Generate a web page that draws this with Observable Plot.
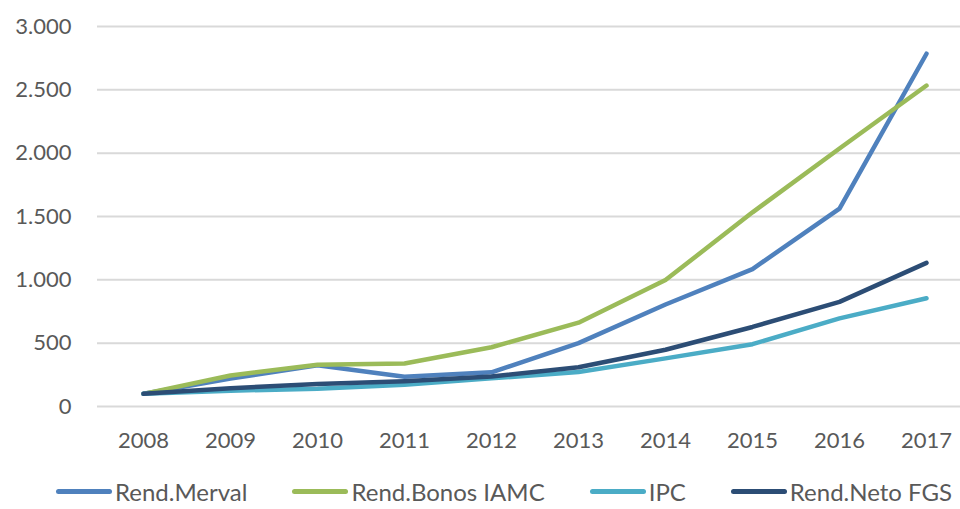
<!DOCTYPE html>
<html>
<head>
<meta charset="utf-8">
<script src="https://cdn.jsdelivr.net/npm/d3@7"></script>
<script src="https://cdn.jsdelivr.net/npm/@observablehq/plot@0.6"></script>
<style>
  html, body { margin: 0; padding: 0; background: #fff; }
  body { width: 960px; height: 509px; overflow: hidden; font-family: Lato, "Open Sans", sans-serif; }
  #legend { display: flex; align-items: center; height: 49px; padding-top: 14px; box-sizing: border-box; padding-left: 56px; gap: 45px; color: #595959; font-size: 24px; }
  .item { display: flex; align-items: center; white-space: nowrap; }
  .sw { width: 56px; height: 5px; border-radius: 3px; margin-right: 3px; }
</style>
</head>
<body>
<div id="chart"></div>
<div id="legend"></div>
<script>
const years = ["2008","2009","2010","2011","2012","2013","2014","2015","2016","2017"];
const seriesNames = ["Rend.Merval", "Rend.Bonos IAMC", "IPC", "Rend.Neto FGS"];
const merval = [100, 220, 325, 235, 270, 500, 805, 1085, 1562, 2785];
const bonos  = [100, 245, 330, 340, 468, 662, 998, 1533, 2037, 2534];
const ipc    = [100, 125, 140, 172, 222, 273, 380, 492, 696, 855];
const neto   = [100, 145, 178, 200, 237, 310, 448, 628, 826, 1134];
const yTicks = [0, 500, 1000, 1500, 2000, 2500, 3000];
const colors = ["#4f81bd", "#9bbb59", "#4bacc6", "#2c4d75"];

const allSeries = [merval, bonos, ipc, neto];
const data = [];
allSeries.forEach((vals, i) => vals.forEach((v, j) => data.push({year: years[j], value: v, series: seriesNames[i]})));

const fmt = d3.formatLocale({decimal: ",", thousands: ".", grouping: [3], currency: ["", ""]}).format(",");

const chart = Plot.plot({
  width: 960,
  height: 460,
  marginLeft: 97,
  marginRight: 0,
  marginTop: 26,
  marginBottom: 54,
  style: {fontFamily: "Lato, 'Open Sans', sans-serif", fontSize: "22px", color: "#595959", background: "#fff"},
  x: {type: "point", domain: years, range: [141, 928.5], padding: 0},
  y: {domain: [0, 3000]},
  color: {domain: seriesNames, range: colors},
  marks: [
    Plot.gridY(yTicks, {stroke: "#d9d9d9", strokeOpacity: 1, strokeWidth: 2}),
    Plot.axisY(yTicks, {tickSize: 0, tickPadding: 26, tickFormat: fmt, label: null, fill: "#595959"}),
    Plot.axisX(years, {tickSize: 0, tickPadding: 26, label: null, fill: "#595959"}),
    Plot.line(data, {x: "year", y: "value", z: "series", stroke: "series", strokeWidth: 4.5, strokeLinecap: "round", strokeLinejoin: "round"})
  ]
});
document.getElementById("chart").appendChild(chart);

const legend = document.getElementById("legend");
seriesNames.forEach((name, i) => {
  const item = document.createElement("div");
  item.className = "item";
  const sw = document.createElement("div");
  sw.className = "sw";
  sw.style.background = colors[i];
  const t = document.createElement("span");
  t.textContent = name;
  item.appendChild(sw);
  item.appendChild(t);
  legend.appendChild(item);
});
</script>
</body>
</html>
